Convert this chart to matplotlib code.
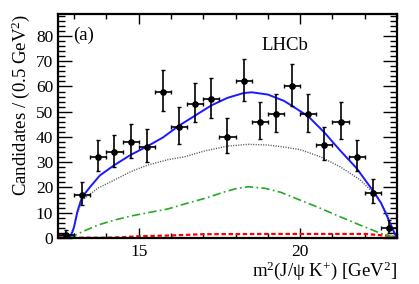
import numpy as np
import matplotlib
matplotlib.use('Agg')
import matplotlib.pyplot as plt
from matplotlib.ticker import MultipleLocator

plt.rcParams['font.family'] = ['Liberation Serif', 'DejaVu Serif']
plt.rcParams['mathtext.fontset'] = 'custom'
plt.rcParams['mathtext.rm'] = 'Liberation Serif'
plt.rcParams['mathtext.it'] = 'Liberation Serif:italic'

# datos
x_data = [12.75, 13.25, 13.75, 14.25, 14.75, 15.25, 15.75, 16.25, 16.75, 17.25, 17.75,
          18.25, 18.75, 19.25, 19.75, 20.25, 20.75, 21.25, 21.75, 22.25, 22.75]
y_data = [1, 17, 32, 34, 38, 36, 58, 44, 53, 55, 40, 62, 46, 49, 60, 49, 37, 46, 32, 18, 4]
err_lo = [0.83, 4.08, 5.62, 5.80, 6.14, 5.97, 7.60, 6.61, 7.26, 7.39, 6.30, 7.86, 6.76,
          6.98, 7.73, 6.98, 6.06, 6.76, 5.62, 4.20, 1.91]
err_hi = [2.30, 5.18, 6.72, 6.89, 7.23, 7.06, 8.68, 7.70, 8.35, 8.48, 7.39, 8.94, 7.85,
          8.07, 8.81, 8.07, 7.15, 7.85, 6.72, 5.30, 3.16]

# ajuste total (azul)
x_total = [12.85, 12.95, 13.0, 13.1, 13.2, 13.26, 13.5, 13.8, 14.25, 14.75, 15.25, 15.75,
           16.25, 16.75, 17.25, 17.75, 18.25, 18.5, 19.0, 19.5, 19.75, 20.25, 20.75,
           21.25, 21.75, 22.25, 22.5, 22.7, 22.85, 22.95, 23.0]
y_total = [0, 2.5, 4.5, 10.4, 14.5, 16.4, 20.3, 24.8, 28.9, 32.9, 36.2, 39.8,
           44.5, 48.5, 52.5, 55.5, 57.4, 57.7, 56.8, 54.3, 52.3, 48.2, 41.8,
           34.5, 27.6, 18.8, 14.0, 8.4, 4.0, 1.2, 0]

# componente punteada (gris)
x_dot = [12.85, 13.0, 13.1, 13.26, 13.73, 14.25, 14.76, 15.28, 15.9, 16.43, 17.05, 17.77,
         18.39, 19.01, 19.5, 20.0, 20.62, 21.24, 21.86, 22.38, 22.69, 22.9, 23.0]
y_dot = [0, 4.5, 10.0, 15.0, 19.7, 23.0, 26.3, 28.9, 31.0, 32.2, 34.5, 36.4,
         37.1, 36.8, 36.0, 35.0, 32.2, 28.2, 23.0, 16.4, 9.8, 1.9, 0]

# componente verde
x_green = [12.85, 13.26, 13.73, 14.25, 14.76, 15.28, 15.9, 16.43, 17.05, 17.67, 18.0,
           18.39, 18.9, 19.4, 20.0, 20.62, 21.24, 21.86, 22.48, 22.9, 23.0]
y_green = [0, 2.5, 5.1, 7.1, 8.7, 10.0, 11.5, 13.5, 15.7, 18.3, 19.5,
           20.3, 19.7, 18.1, 15.0, 11.8, 8.4, 5.1, 1.9, 0.3, 0]

# componente roja
x_red = [12.5, 14.0, 14.5, 15.0, 16.0, 17.0, 19.0, 22.0, 22.8, 23.0]
y_red = [0.1, 0.1, 0.3, 0.7, 1.0, 1.5, 1.6, 1.6, 0.8, 0.1]

shade_x = [12.5, 12.85]
shade_y = [1.2, 1.2]

fig = plt.figure(figsize=(4.19, 2.84), dpi=100)
ax = fig.add_axes([0.1384, 0.162, 0.8091, 0.7887])

ax.fill_between(shade_x, 0, shade_y, color='#777777', lw=0)
ax.plot(x_red, y_red, color='red', ls=(0, (2, 1.2)), lw=1.6)
ax.plot(x_green, y_green, color='#22aa22', ls=(0, (5, 2, 1, 2)), lw=1.2)
ax.plot(x_dot, y_dot, color='#555555', ls=(0, (0.8, 1.0)), lw=1.0)
ax.plot(x_total, y_total, color='#1a1aff', lw=1.4)
ax.errorbar(x_data, y_data, yerr=[err_lo, err_hi], xerr=0.25, fmt='o', color='black',
            ms=3.8, elinewidth=1.2, capsize=1.3, capthick=1.0, zorder=5)

ax.set_xlim(12.5, 23.0)
ax.set_ylim(0, 88.7)
ax.xaxis.set_major_locator(MultipleLocator(5))
ax.xaxis.set_minor_locator(MultipleLocator(1))
ax.yaxis.set_major_locator(MultipleLocator(10))
ax.yaxis.set_minor_locator(MultipleLocator(2))
ax.tick_params(axis='both', which='both', direction='in', top=True, right=True,
               labelsize=12.5, width=1.0)
ax.tick_params(axis='y', which='major', length=10)
ax.tick_params(axis='y', which='minor', length=5)
ax.tick_params(axis='x', which='major', length=7)
ax.tick_params(axis='x', which='minor', length=3.5)
ax.tick_params(axis='x', pad=4)
for s in ax.spines.values():
    s.set_linewidth(1.6)

ax.set_ylabel(r'Candidates / (0.5 GeV$^{2}$)', fontsize=13.5, loc='top', labelpad=3)
ax.set_xlabel(r'm$^{2}$(J/ψ K$^{+}$) [GeV$^{2}$]', fontsize=13.5, loc='right', labelpad=0)

ax.text(0.045, 0.905, '(a)', transform=ax.transAxes, fontsize=13.5, va='center')
ax.text(0.67, 0.86, 'LHCb', transform=ax.transAxes, fontsize=13.5, ha='center', va='center')

fig.savefig('out.png', dpi=100)
